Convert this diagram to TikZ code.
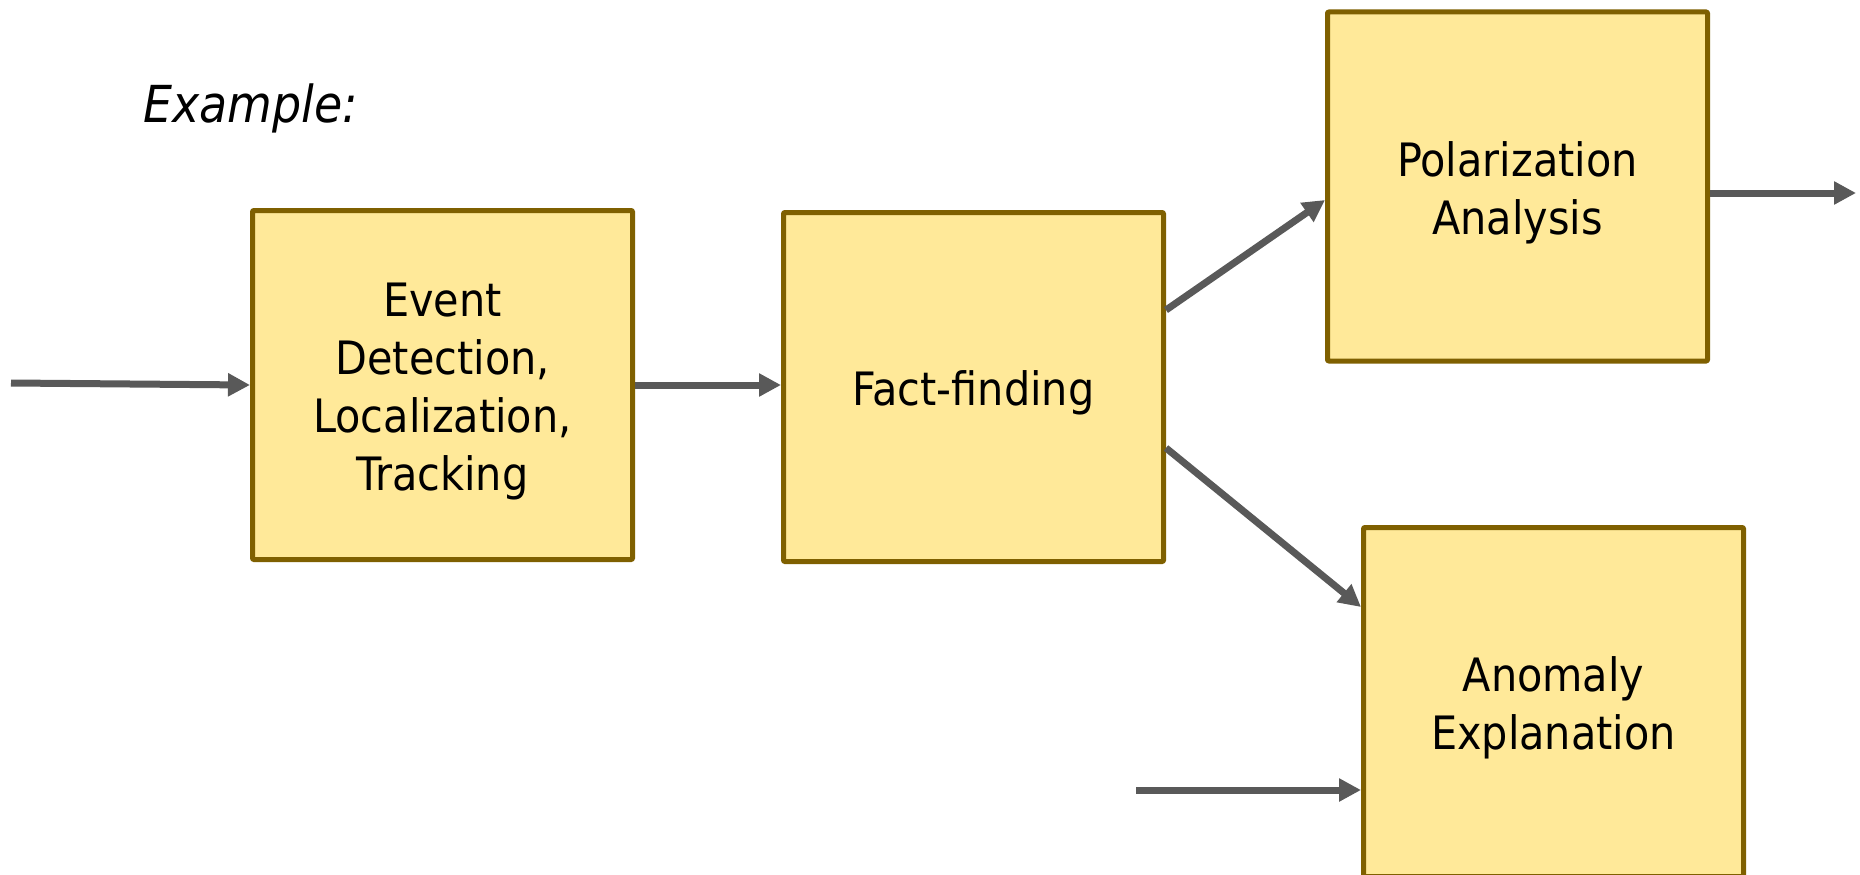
\documentclass[tikz,border=0pt]{standalone}
\usepackage{fontspec}
\setmainfont{DejaVu Sans Condensed}
\usetikzlibrary{arrows.meta}
\definecolor{boxfill}{HTML}{FFE999}
\definecolor{boxline}{HTML}{7F6000}
\definecolor{arrowgray}{HTML}{595959}
\begin{document}
\begin{tikzpicture}[x=1pt,y=-1pt,
  block/.style={draw=boxline, fill=boxfill, line width=5pt, line join=round, rounded corners=1pt,
    minimum width=380pt, minimum height=349pt, inner sep=0pt, align=center,
    font=\fontsize{46}{58}\selectfont, execute at begin node={\rule{0pt}{#1}}},
  block/.default=47pt,
  flow/.style={draw=arrowgray, line width=7pt, -{Triangle[length=22pt,width=22pt]}}]
\useasboundingbox[fill=white] (0,0) rectangle (1860,875);

\node[anchor=base west, font=\fontsize{51}{60}\selectfont\itshape] (ex) at (140,122) {Example:};

\node[block=220pt] (ev) at (442.5,385) {Event\\Detection,\\Localization,\\Tracking};
\node[block] (fa) at (973.5,387) {Fact-finding};
\node[block=105pt] (pol) at (1517.5,186.5) {Polarization\\Analysis};
\node[block=105pt] (an) at (1553.5,702) {Anomaly\\Explanation};

\coordinate (in1) at (11,383);
\coordinate (in2) at (1136,790);
\coordinate (out) at (1856,193);

\draw[flow] (in1) -- (ev.west);
\draw[flow] (ev.east) -- (ev.east -| fa.west);
\draw[flow] ([yshift=77pt]fa.east) -- ([yshift=-13.5pt]pol.west);
\draw[flow] ([yshift=-61pt]fa.east) -- ([yshift=95pt]an.west);
\draw[flow] ([yshift=-6.5pt]pol.east) -- (out);
\draw[flow] (in2) -- ([yshift=-88pt]an.west);
\end{tikzpicture}
\end{document}
